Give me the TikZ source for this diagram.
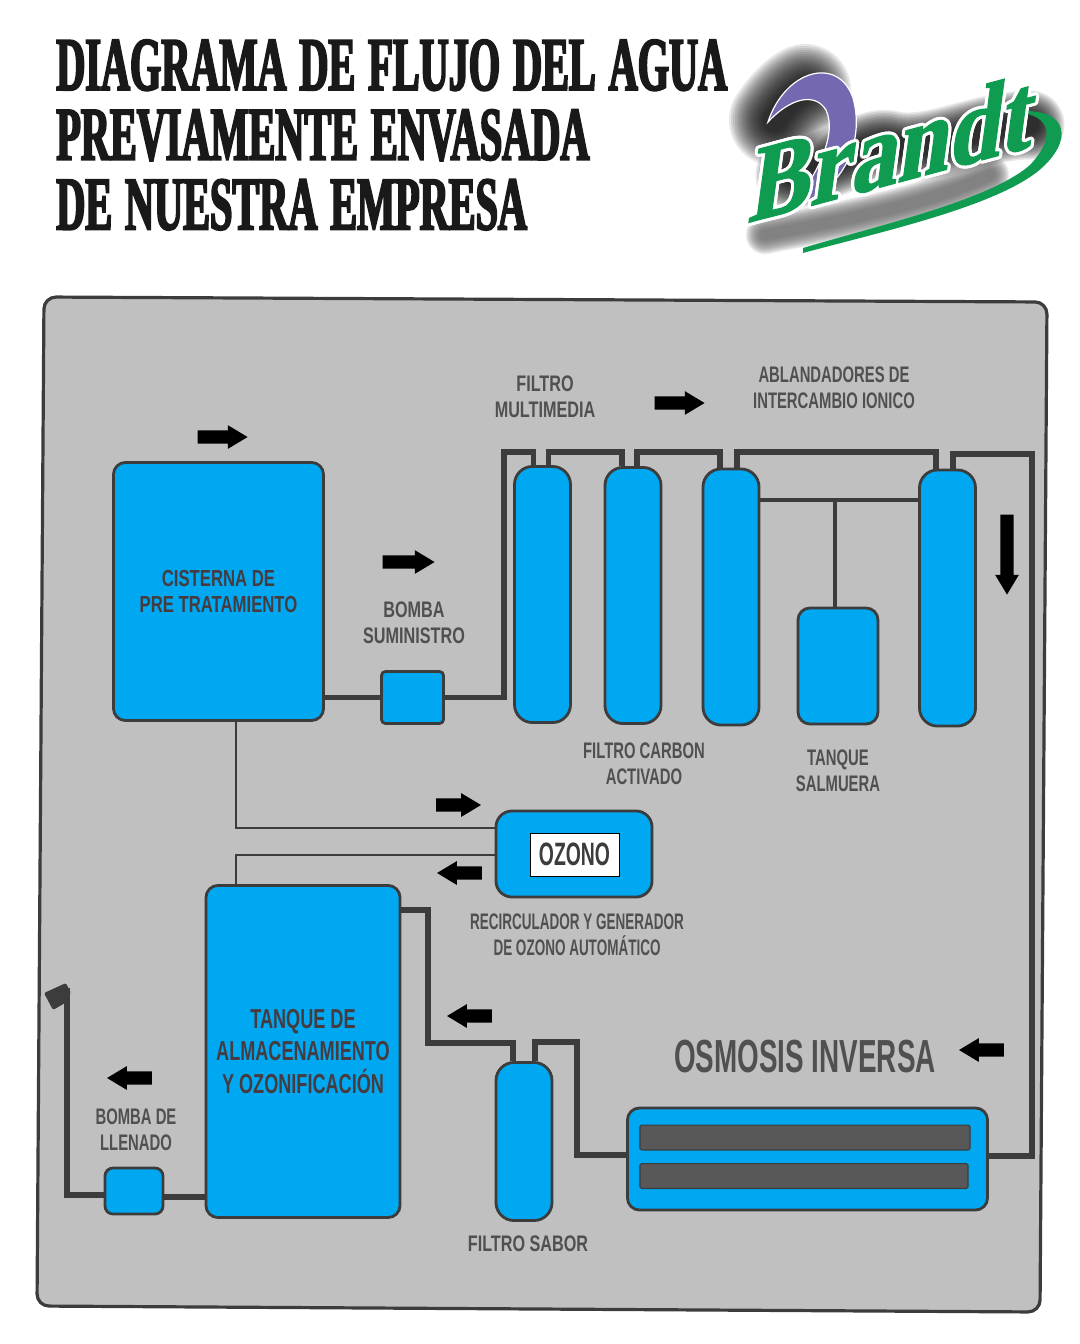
\documentclass[tikz,border=0pt]{standalone}
\usepackage{fontspec}
\usepackage{contour}
\usetikzlibrary{calc,shapes.arrows}

\newfontfamily\titlefont[FakeStretch=0.53,FakeBold=2.5]{Liberation Serif}
\newfontfamily\labelfont[FakeStretch=0.66]{Liberation Sans}
\newfontfamily\labelwide[FakeStretch=0.72]{Liberation Sans}
\newfontfamily\labelslim[FakeStretch=0.6]{Liberation Sans}
\newfontfamily\logofont[FakeSlant=0.42,FakeStretch=0.92,FakeBold=1.2]{Liberation Serif}
\newcommand{\titlewords}{\spaceskip=0.17em\relax}
\definecolor{panelgray}{HTML}{C0C0C0}
\definecolor{pipedark}{HTML}{3C3C3C}
\definecolor{tankblue}{HTML}{00A8F2}
\definecolor{inktank}{HTML}{463C40}
\definecolor{barshade}{HTML}{585858}
\definecolor{logogreen}{HTML}{0F9B50}
\definecolor{logoviolet}{HTML}{7468B0}

\begin{document}
\begin{tikzpicture}[x=0.025cm,y=-0.025cm]

    % --- Grundstile ---
    \tikzset{
        % tanks
        tank/.style={
            draw=pipedark,
            fill=tankblue,
            line width=0.07cm,
            align=center,
            inner sep=0pt,
            rounded corners=0.3cm
        },
        column/.style={
            tank,
            rounded corners=0.45cm,
            minimum width=1.4cm
        },
        tanktext/.style={
            font=\labelwide\bfseries\fontsize{16.5}{19}\selectfont,
            text=inktank
        },
        % pipes
        thickpipe/.style={
            draw=pipedark,
            line width=0.14cm
        },
        thinpipe/.style={
            draw=pipedark,
            line width=0.08cm
        },
        % free labels
        labeltext/.style={
            font=\labelfont\bfseries\fontsize{16}{18.6}\selectfont,
            text=pipedark!90,
            align=center
        },
        % flow arrows
        flowarrow/.style={
            single arrow,
            fill=black,
            inner sep=0.16cm,
            minimum height=1.25cm,
            single arrow head extend=0.13cm,
            single arrow tip angle=62
        },
        logoshade/.style={
            line cap=round,
            line join=round,
            opacity=0.09
        }
    }

    \useasboundingbox (0,0) rectangle (1080,1344);

    % --- Titel ---
    \node[anchor=west, inner sep=0pt, align=left, text=black!90,
        font=\titlefont\bfseries\fontsize{54}{49.6}\selectfont\titlewords] (titel) at (56,135)
        {DIAGRAMA DE FLUJO DEL AGUA\\PREVIAMENTE ENVASADA\\DE NUESTRA EMPRESA};

    % --- Logo ---
    \foreach \wd in {2.3,2.2,...,0.5}{
        \draw[logoshade, line width=\wd cm, black]
            (775,120) .. controls (785,105) and (795,95) .. (805,90);
        \draw[logoshade, line width=0.75*\wd cm, black]
            (790,175) .. controls (840,165) and (870,140) .. (890,145)
            .. controls (930,155) and (980,125) .. (1030,125);
        \draw[logoshade, line width=0.42*\wd cm, black!60]
            (765,235) .. controls (830,222) and (920,208) .. (990,175);
    }
    \fill[logoviolet, draw=white, line width=0.03cm] (768,122) .. controls (785,70) and (838,55) .. (853,98)
        .. controls (866,145) and (840,195) .. (790,207)
        .. controls (815,180) and (838,135) .. (826,110)
        .. controls (815,92) and (790,98) .. (768,122) -- cycle;
    \fill[logogreen] (803,253) .. controls (880,232) and (1005,205) .. (1045,165)
        .. controls (1075,135) and (1065,105) .. (1010,112)
        .. controls (1050,112) and (1058,135) .. (1030,165)
        .. controls (990,200) and (880,225) .. (803,248) -- cycle;
    \node[rotate=15, inner sep=0pt, text=logogreen,
        font=\logofont\bfseries\fontsize{74}{74}\selectfont] (logo) at (880,152)
        {\contour{white}{Brandt}};

    % --- Panel ---
    \draw[line width=0.08cm, draw=pipedark, fill=panelgray, rounded corners=0.3cm]
        (44,297) -- (1047,302) -- (1040,1312) -- (37,1306) -- cycle;

    % --- Tanks und Pumpen ---
    \node[tank, tanktext, minimum width=5.25cm, minimum height=6.45cm] (cisterna) at (218.5,591.5)
        {CISTERNA DE\\PRE TRATAMIENTO};
    \node[tank, rounded corners=0.1cm, minimum width=1.55cm, minimum height=1.3cm] (bombaSum) at (412.5,697.5) {};
    \node[column, minimum height=6.4cm] (filtroA) at (542.5,594.5) {};
    \node[column, minimum height=6.4cm] (filtroB) at (633,595.5) {};
    \node[column, minimum height=6.4cm] (filtroC) at (731,597) {};
    \node[column, minimum height=6.4cm] (ablandador) at (947.5,598) {};
    \node[tank, minimum width=2cm, minimum height=2.9cm] (salmuera) at (838,666) {};
    \node[tank, rounded corners=0.4cm, minimum width=3.9cm, minimum height=2.15cm] (ozono) at (574,854) {};
    \node[draw=black, fill=white, line width=0.02cm, minimum width=2.22cm, minimum height=1.07cm,
        inner sep=0pt, text=pipedark, font=\labelslim\bfseries\fontsize{23}{23}\selectfont] (ozonoText) at (574.5,854.5) {OZONO};
    \node[tank, tanktext, font=\labelfont\bfseries\fontsize{19.5}{23}\selectfont, minimum width=4.85cm, minimum height=8.3cm] (almacen) at (303,1051.5)
        {TANQUE DE\\ALMACENAMIENTO\\Y OZONIFICACIÓN};
    \node[tank, rounded corners=0.2cm, minimum width=1.45cm, minimum height=1.15cm] (bombaLlen) at (134,1191) {};
    \node[column, minimum height=3.95cm] (filtroSabor) at (524,1141.5) {};
    \node[tank, minimum width=9cm, minimum height=2.55cm] (osmosis) at (807.5,1159) {};
    \node[draw=pipedark, fill=barshade, line width=0.03cm, rounded corners=0.04cm, minimum width=8.25cm,
        minimum height=0.62cm, inner sep=0pt] (barA) at (805,1137.5) {};
    \node[draw=pipedark, fill=barshade, line width=0.03cm, rounded corners=0.04cm, minimum width=8.2cm,
        minimum height=0.62cm, inner sep=0pt] (barB) at (804,1176) {};

    % --- Leitungen ---
    \coordinate (salJoin) at (835,500);
    \draw[thickpipe] (cisterna.east |- bombaSum.west) -- (bombaSum.west);
    \draw[thickpipe] (bombaSum.east) -| (504,452) -| ($(filtroA.north)+(-9,0)$);
    \draw[thickpipe] ($(filtroA.north)+(6,0)$) |- (622,452) -- ($(filtroB.north)+(-11,0)$);
    \draw[thickpipe] ($(filtroB.north)+(4,0)$) |- (720,452) -- ($(filtroC.north)+(-11,0)$);
    \draw[thickpipe] ($(filtroC.north)+(6,0)$) |- (936,452) -- ($(ablandador.north)+(-11.5,0)$);
    \draw[thickpipe] ($(ablandador.north)+(5.5,0)$) |- (1032,454) |- (osmosis.east |- 0,1156);
    \draw[thinpipe] (filtroC.east |- salJoin) -- (ablandador.west |- salJoin);
    \draw[thinpipe] (salJoin) -- (salJoin |- salmuera.north);
    \draw[thinpipe, line width=0.07cm] (236,721) |- (ozono.west |- 0,828);
    \draw[thinpipe, line width=0.07cm] (ozono.west |- 0,855) -| (236,885);
    \draw[thickpipe] (almacen.east |- 0,910) -| (428,1043) -| ($(filtroSabor.north)+(-11,0)$);
    \draw[thickpipe] ($(filtroSabor.north)+(11,0)$) |- (577,1042) |- (osmosis.west |- 0,1155);
    \draw[thickpipe] (bombaLlen.west |- 0,1195) -| (67,988);
    \draw[thickpipe] (bombaLlen.east |- 0,1197) -- (almacen.west |- 0,1197);
    \fill[pipedark, rounded corners=0.04cm] (44,993) -- (66,983) -- (71,993) -- (65,1003) -- (53,1010) -- cycle;

    % --- Pfeile ---
    \node[flowarrow] (flowA) at (217,437) {};
    \node[flowarrow, minimum height=1.3cm] (flowB) at (403,562) {};
    \node[flowarrow] (flowC) at (674,403) {};
    \node[flowarrow, shape border rotate=270, minimum height=2cm] (flowD) at (1007,549) {};
    \node[flowarrow, minimum height=1.12cm] (flowE) at (453,805) {};
    \node[flowarrow, shape border rotate=180, minimum height=1.12cm] (flowF) at (465,873) {};
    \node[flowarrow, shape border rotate=180, minimum height=1.12cm] (flowG) at (475,1016) {};
    \node[flowarrow, shape border rotate=180, minimum height=1.12cm] (flowH) at (987,1050) {};
    \node[flowarrow, shape border rotate=180, minimum height=1.12cm] (flowI) at (135,1078) {};

    % --- Beschriftungen ---
    \node[labeltext, font=\labelwide\bfseries\fontsize{16}{18.6}\selectfont] (lblMulti) at (545,397) {FILTRO\\MULTIMEDIA};
    \node[labeltext] (lblAblanda) at (834,388) {ABLANDADORES DE\\INTERCAMBIO IONICO};
    \node[labeltext, font=\labelwide\bfseries\fontsize{16}{18.6}\selectfont] (lblBomba) at (414,623) {BOMBA\\SUMINISTRO};
    \node[labeltext] (lblCarbon) at (644,764) {FILTRO CARBON\\ACTIVADO};
    \node[labeltext] (lblSalmuera) at (838,771) {TANQUE\\SALMUERA};
    \node[labeltext, font=\labelslim\bfseries\fontsize{16}{18.6}\selectfont] (lblRecirc) at (577,935) {RECIRCULADOR Y GENERADOR\\DE OZONO AUTOMÁTICO};
    \node[labeltext] (lblLlenado) at (136,1130) {BOMBA DE\\LLENADO};
    \node[labeltext, font=\labelwide\bfseries\fontsize{16}{18.6}\selectfont] (lblSabor) at (528,1244) {FILTRO SABOR};
    \node[labeltext, font=\labelslim\bfseries\fontsize{33}{36}\selectfont] (lblOsmosis) at (805,1057) {OSMOSIS INVERSA};

\end{tikzpicture}
\end{document}
